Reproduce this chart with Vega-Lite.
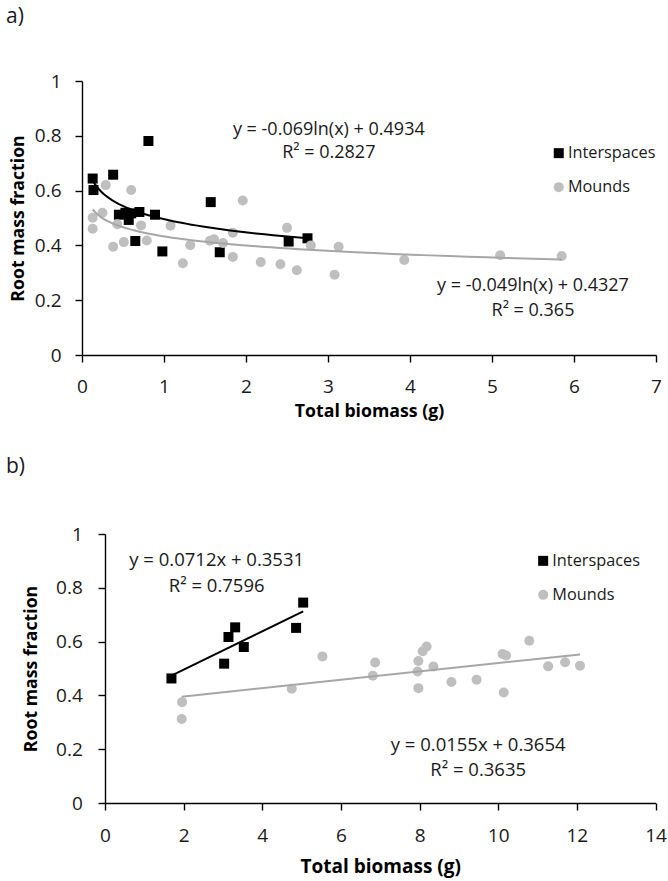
{
  "$schema": "https://vega.github.io/schema/vega-lite/v6.json",
  "background": "white",
  "padding": {"left": 6, "top": 6, "right": 4, "bottom": 2},
  "config": {
    "view": {"stroke": null},
    "font": "Open Sans",
    "axis": {
      "grid": false,
      "domainColor": "#000000",
      "domainWidth": 1.4,
      "tickColor": "#000000",
      "tickWidth": 1.4,
      "tickSize": 7,
      "labelFont": "Open Sans",
      "labelFontSize": 19,
      "labelColor": "#1a1a1a",
      "labelFlush": false,
      "labelOverlap": false,
      "titleFont": "Open Sans",
      "titleFontWeight": "bold",
      "titleColor": "#000000"
    },
    "legend": {
      "title": null,
      "labelFont": "Open Sans",
      "labelFontSize": 16.3,
      "labelColor": "#1a1a1a",
      "symbolSize": 100,
      "symbolStrokeWidth": 0,
      "labelOffset": 1,
      "padding": 0,
      "rowPadding": 17
    }
  },
  "datasets": {
    "a": [
      {"series": "Interspaces", "biomass": 0.13, "rmf": 0.644},
      {"series": "Interspaces", "biomass": 0.14, "rmf": 0.602},
      {"series": "Interspaces", "biomass": 0.38, "rmf": 0.658},
      {"series": "Interspaces", "biomass": 0.81, "rmf": 0.781},
      {"series": "Interspaces", "biomass": 0.45, "rmf": 0.512},
      {"series": "Interspaces", "biomass": 0.53, "rmf": 0.519},
      {"series": "Interspaces", "biomass": 0.57, "rmf": 0.493},
      {"series": "Interspaces", "biomass": 0.60, "rmf": 0.517},
      {"series": "Interspaces", "biomass": 0.70, "rmf": 0.522},
      {"series": "Interspaces", "biomass": 0.65, "rmf": 0.416},
      {"series": "Interspaces", "biomass": 0.89, "rmf": 0.512},
      {"series": "Interspaces", "biomass": 0.98, "rmf": 0.378},
      {"series": "Interspaces", "biomass": 1.57, "rmf": 0.558},
      {"series": "Interspaces", "biomass": 1.68, "rmf": 0.375},
      {"series": "Interspaces", "biomass": 2.52, "rmf": 0.414},
      {"series": "Interspaces", "biomass": 2.75, "rmf": 0.426},
      {"series": "Mounds", "biomass": 0.13, "rmf": 0.501},
      {"series": "Mounds", "biomass": 0.13, "rmf": 0.461},
      {"series": "Mounds", "biomass": 0.29, "rmf": 0.620},
      {"series": "Mounds", "biomass": 0.25, "rmf": 0.519},
      {"series": "Mounds", "biomass": 0.43, "rmf": 0.477},
      {"series": "Mounds", "biomass": 0.38, "rmf": 0.395},
      {"series": "Mounds", "biomass": 0.51, "rmf": 0.412},
      {"series": "Mounds", "biomass": 0.60, "rmf": 0.602},
      {"series": "Mounds", "biomass": 0.72, "rmf": 0.473},
      {"series": "Mounds", "biomass": 0.79, "rmf": 0.418},
      {"series": "Mounds", "biomass": 1.08, "rmf": 0.472},
      {"series": "Mounds", "biomass": 1.32, "rmf": 0.401},
      {"series": "Mounds", "biomass": 1.23, "rmf": 0.335},
      {"series": "Mounds", "biomass": 1.56, "rmf": 0.417},
      {"series": "Mounds", "biomass": 1.61, "rmf": 0.422},
      {"series": "Mounds", "biomass": 1.72, "rmf": 0.409},
      {"series": "Mounds", "biomass": 1.84, "rmf": 0.446},
      {"series": "Mounds", "biomass": 1.84, "rmf": 0.358},
      {"series": "Mounds", "biomass": 1.96, "rmf": 0.564},
      {"series": "Mounds", "biomass": 2.18, "rmf": 0.339},
      {"series": "Mounds", "biomass": 2.42, "rmf": 0.331},
      {"series": "Mounds", "biomass": 2.50, "rmf": 0.464},
      {"series": "Mounds", "biomass": 2.62, "rmf": 0.309},
      {"series": "Mounds", "biomass": 2.79, "rmf": 0.400},
      {"series": "Mounds", "biomass": 3.08, "rmf": 0.293},
      {"series": "Mounds", "biomass": 3.13, "rmf": 0.395},
      {"series": "Mounds", "biomass": 3.93, "rmf": 0.347},
      {"series": "Mounds", "biomass": 5.10, "rmf": 0.364},
      {"series": "Mounds", "biomass": 5.85, "rmf": 0.361}
    ],
    "b": [
      {"series": "Interspaces", "biomass": 1.69, "rmf": 0.463},
      {"series": "Interspaces", "biomass": 3.03, "rmf": 0.518},
      {"series": "Interspaces", "biomass": 3.14, "rmf": 0.617},
      {"series": "Interspaces", "biomass": 3.31, "rmf": 0.653},
      {"series": "Interspaces", "biomass": 3.53, "rmf": 0.580},
      {"series": "Interspaces", "biomass": 4.86, "rmf": 0.651},
      {"series": "Interspaces", "biomass": 5.04, "rmf": 0.745},
      {"series": "Mounds", "biomass": 1.96, "rmf": 0.375},
      {"series": "Mounds", "biomass": 1.95, "rmf": 0.312},
      {"series": "Mounds", "biomass": 4.75, "rmf": 0.425},
      {"series": "Mounds", "biomass": 5.53, "rmf": 0.545},
      {"series": "Mounds", "biomass": 6.81, "rmf": 0.473},
      {"series": "Mounds", "biomass": 6.87, "rmf": 0.522},
      {"series": "Mounds", "biomass": 7.97, "rmf": 0.427},
      {"series": "Mounds", "biomass": 7.95, "rmf": 0.489},
      {"series": "Mounds", "biomass": 7.97, "rmf": 0.528},
      {"series": "Mounds", "biomass": 8.08, "rmf": 0.564},
      {"series": "Mounds", "biomass": 8.18, "rmf": 0.582},
      {"series": "Mounds", "biomass": 8.35, "rmf": 0.507},
      {"series": "Mounds", "biomass": 8.81, "rmf": 0.450},
      {"series": "Mounds", "biomass": 9.45, "rmf": 0.458},
      {"series": "Mounds", "biomass": 10.11, "rmf": 0.554},
      {"series": "Mounds", "biomass": 10.20, "rmf": 0.548},
      {"series": "Mounds", "biomass": 10.14, "rmf": 0.411},
      {"series": "Mounds", "biomass": 10.79, "rmf": 0.603},
      {"series": "Mounds", "biomass": 11.27, "rmf": 0.508},
      {"series": "Mounds", "biomass": 11.70, "rmf": 0.523},
      {"series": "Mounds", "biomass": 12.08, "rmf": 0.510}
    ],
    "annA": [
      {"bx": 3.01, "ry": 0.822, "label": "y = -0.069ln(x) + 0.4934"},
      {"bx": 3.01, "ry": 0.737, "label": "R² = 0.2827"},
      {"bx": 5.50, "ry": 0.251, "label": "y = -0.049ln(x) + 0.4327"},
      {"bx": 5.50, "ry": 0.159, "label": "R² = 0.365"}
    ],
    "annB": [
      {"bx": 2.84, "ry": 0.904, "label": "y = 0.0712x + 0.3531"},
      {"bx": 2.84, "ry": 0.808, "label": "R² = 0.7596"},
      {"bx": 9.49, "ry": 0.217, "label": "y = 0.0155x + 0.3654"},
      {"bx": 9.49, "ry": 0.124, "label": "R² = 0.3635"}
    ]
  },
  "spacing": 36,
  "resolve": {
    "scale": {"color": "independent", "shape": "independent"},
    "legend": {"color": "independent", "shape": "independent"}
  },
  "vconcat": [
    {
      "width": 574,
      "height": 274,
      "title": {"text": "a)", "anchor": "start", "frame": "group", "dx": -76, "offset": 45, "fontSize": 21, "fontWeight": "normal", "font": "Open Sans", "color": "#1a1a1a"},
      "layer": [
        {
          "data": {"name": "a"},
          "mark": {"type": "point", "filled": true, "opacity": 1, "size": 100},
          "encoding": {
            "x": {"field": "biomass", "type": "quantitative", "scale": {"domain": [0, 7], "nice": false},
                  "axis": {"values": [0, 1, 2, 3, 4, 5, 6, 7], "format": "~g", "title": "Total biomass (g)", "titleFontSize": 17.7, "labelPadding": 15, "titlePadding": 6}},
            "y": {"field": "rmf", "type": "quantitative", "scale": {"domain": [0, 1], "nice": false},
                  "axis": {"values": [0, 0.2, 0.4, 0.6, 0.8, 1], "format": "~g", "title": "Root mass fraction", "titleFontSize": 17.7, "labelPadding": 14, "titlePadding": 7}},
            "color": {"field": "series", "type": "nominal", "scale": {"domain": ["Interspaces", "Mounds"], "range": ["#000000", "#BFBFBF"]},
                      "legend": {"orient": "none", "legendX": 468.6, "legendY": 64}},
            "shape": {"field": "series", "type": "nominal", "scale": {"domain": ["Interspaces", "Mounds"], "range": ["square", "circle"]},
                      "legend": {"orient": "none", "legendX": 468.6, "legendY": 64}}
          }
        },
        {
          "data": {"name": "a"},
          "transform": [{"regression": "rmf", "on": "biomass", "groupby": ["series"], "method": "log"}],
          "mark": {"type": "line", "strokeWidth": 2},
          "encoding": {
            "x": {"field": "biomass", "type": "quantitative"},
            "y": {"field": "rmf", "type": "quantitative"},
            "detail": {"field": "series", "type": "nominal"},
            "color": {"condition": {"test": "datum.series === 'Interspaces'", "value": "#000000"}, "value": "#A6A6A6"}
          }
        },
        {
          "data": {"name": "annA"},
          "mark": {"type": "text", "fontSize": 18, "font": "Open Sans", "color": "#1a1a1a", "align": "center", "baseline": "middle"},
          "encoding": {
            "x": {"field": "bx", "type": "quantitative"},
            "y": {"field": "ry", "type": "quantitative"},
            "text": {"field": "label", "type": "nominal"}
          }
        }
      ]
    },
    {
      "width": 573.5,
      "height": 269,
      "title": {"text": "b)", "anchor": "start", "frame": "group", "dx": -76, "offset": 48, "fontSize": 21, "fontWeight": "normal", "font": "Open Sans", "color": "#1a1a1a"},
      "layer": [
        {
          "data": {"name": "b"},
          "mark": {"type": "point", "filled": true, "opacity": 1, "size": 100},
          "encoding": {
            "x": {"field": "biomass", "type": "quantitative", "scale": {"domain": [0, 14], "nice": false, "range": [23, 573.5]},
                  "axis": {"values": [0, 2, 4, 6, 8, 10, 12, 14], "format": "~g", "title": "Total biomass (g)", "titleFontSize": 19, "labelPadding": 16, "titlePadding": 12}},
            "y": {"field": "rmf", "type": "quantitative", "scale": {"domain": [0, 1], "nice": false},
                  "axis": {"values": [0, 0.2, 0.4, 0.6, 0.8, 1], "format": "~g", "title": "Root mass fraction", "titleFontSize": 17.7, "labelPadding": 15.7, "titlePadding": 15, "offset": -23}},
            "color": {"field": "series", "type": "nominal", "scale": {"domain": ["Interspaces", "Mounds"], "range": ["#000000", "#BFBFBF"]},
                      "legend": {"orient": "none", "legendX": 453, "legendY": 18.7}},
            "shape": {"field": "series", "type": "nominal", "scale": {"domain": ["Interspaces", "Mounds"], "range": ["square", "circle"]},
                      "legend": {"orient": "none", "legendX": 453, "legendY": 18.7}}
          }
        },
        {
          "data": {"name": "b"},
          "transform": [{"regression": "rmf", "on": "biomass", "groupby": ["series"], "method": "linear"}],
          "mark": {"type": "line", "strokeWidth": 2},
          "encoding": {
            "x": {"field": "biomass", "type": "quantitative"},
            "y": {"field": "rmf", "type": "quantitative"},
            "detail": {"field": "series", "type": "nominal"},
            "color": {"condition": {"test": "datum.series === 'Interspaces'", "value": "#000000"}, "value": "#A6A6A6"}
          }
        },
        {
          "data": {"name": "annB"},
          "mark": {"type": "text", "fontSize": 18.5, "font": "Open Sans", "color": "#1a1a1a", "align": "center", "baseline": "middle"},
          "encoding": {
            "x": {"field": "bx", "type": "quantitative"},
            "y": {"field": "ry", "type": "quantitative"},
            "text": {"field": "label", "type": "nominal"}
          }
        }
      ]
    }
  ]
}
